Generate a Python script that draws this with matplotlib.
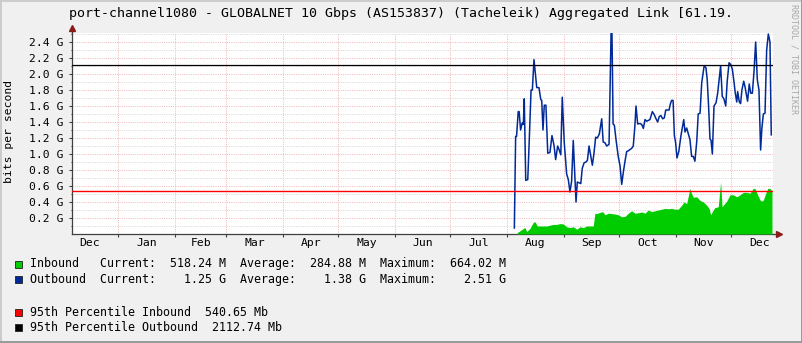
import matplotlib
matplotlib.use("Agg")
import matplotlib.pyplot as plt
from matplotlib.patches import Rectangle
from matplotlib.lines import Line2D

# ---------------- data ----------------
# day numbers: 0 = 1 January; values in Gbit/s
out_days = [216.0, 216.7, 217.2, 218.1, 218.6, 219.4, 220.3, 220.9, 221.4, 222.2,
            223.3, 224.1, 225.1, 225.8, 226.7, 228.2, 229.4, 230.4, 230.9, 231.6,
            232.3, 233.2, 234.2, 235.4, 236.5, 237.6, 238.5, 239.6, 240.3, 241.3,
            242.1, 243.2, 244.5, 245.4, 246.3, 247.2, 248.1, 249.6, 250.3, 252.2,
            253.0, 254.0, 255.0, 255.8, 256.7, 257.6, 258.5, 259.4, 260.3, 261.2,
            262.3, 263.6, 264.4, 265.4, 266.3, 267.6, 268.7, 269.2, 269.8, 270.5,
            271.4, 272.6, 273.6, 274.5, 275.4, 276.3, 277.2, 278.1, 279.9, 280.8,
            281.6, 282.3, 283.2, 283.9, 284.5, 285.4, 286.3, 287.2, 288.1, 289.9,
            291.2, 292.3, 293.0, 294.1, 295.0, 295.9, 296.8, 297.7, 298.5, 300.3,
            301.0, 301.7, 302.5, 303.2, 303.9, 304.6, 305.6, 306.8, 308.3, 309.0,
            309.9, 310.8, 311.7, 312.6, 313.5, 314.4, 315.4, 316.2, 317.2, 318.1,
            319.4, 320.4, 321.1, 321.9, 322.6, 323.2, 323.9, 324.8, 325.9, 326.8,
            327.7, 328.4, 329.3, 330.2, 331.2, 332.0, 333.0, 333.9, 334.8, 335.7,
            336.4, 337.2, 337.7, 338.6, 339.3, 340.0, 341.0, 341.7, 342.6, 343.1,
            344.0, 344.8, 345.7, 346.6, 347.5, 348.4, 349.3, 350.2, 350.9, 351.7,
            352.6, 353.5, 354.4, 355.3, 356.0]
out_vals = [0.075, 1.22, 1.22, 1.53, 1.53, 1.30, 1.39, 1.37, 1.69, 0.67,
            0.68, 1.16, 1.80, 1.80, 2.18, 1.83, 1.83, 1.68, 1.67, 1.30,
            1.61, 1.61, 1.01, 1.02, 1.23, 1.11, 0.93, 1.10, 1.06, 0.99,
            1.71, 1.14, 0.75, 0.68, 0.525, 0.66, 1.17, 0.40, 0.65, 0.63,
            0.82, 0.89, 0.90, 0.92, 1.10, 0.98, 0.86, 1.01, 1.21, 1.20,
            1.25, 1.44, 1.15, 1.14, 1.10, 1.12, 2.51, 2.51, 1.375, 1.36,
            1.18, 0.97, 0.85, 0.62, 0.775, 0.91, 1.03, 1.04, 1.07, 1.10,
            1.325, 1.60, 1.375, 1.38, 1.38, 1.37, 1.32, 1.43, 1.41, 1.43,
            1.53, 1.49, 1.45, 1.40, 1.47, 1.48, 1.44, 1.45, 1.55, 1.55,
            1.625, 1.67, 1.67, 1.23, 1.14, 0.95, 1.03, 1.23, 1.43, 1.275,
            1.325, 1.25, 1.18, 0.97, 0.97, 0.91, 1.16, 1.50, 1.51, 1.89,
            2.10, 2.08, 1.93, 1.575, 1.19, 1.17, 1.00, 1.60, 1.64, 1.76,
            1.95, 2.10, 1.72, 1.69, 1.60, 1.91, 2.14, 2.12, 2.06, 1.90,
            1.76, 1.65, 1.78, 1.65, 1.63, 1.80, 1.91, 1.84, 1.72, 1.66,
            1.875, 1.76, 1.76, 2.03, 2.40, 1.93, 1.80, 1.05, 1.325, 1.50,
            1.51, 2.30, 2.50, 2.40, 1.24]

in_days = [217.6, 219.1, 220.9, 221.8, 222.7, 224.5, 226.3, 227.2, 228.5, 230.9,
           233.6, 235.4, 237.2, 239.1, 240.9, 242.7, 244.5, 246.3, 248.1, 250.0,
           251.8, 253.6, 255.4, 257.2, 259.0, 259.9, 260.9, 262.7, 264.1, 265.4,
           267.2, 269.0, 270.8, 272.6, 274.5, 276.3, 278.1, 279.9, 281.7, 283.5,
           285.4, 287.2, 289.0, 290.8, 292.6, 294.4, 296.3, 298.1, 299.9, 301.7,
           303.5, 305.3, 307.2, 308.4, 309.9, 310.8, 311.7, 312.6, 313.5, 315.4,
           317.2, 319.0, 320.8, 322.1, 323.0, 324.1, 325.3, 327.1, 328.4, 329.2,
           330.2, 331.7, 333.5, 335.3, 337.2, 339.0, 340.8, 342.6, 344.4, 346.2,
           347.1, 348.4, 349.9, 350.8, 351.7, 353.0, 354.1, 355.3, 356.4]
in_vals = [0.02, 0.04, 0.07, 0.08, 0.03, 0.07, 0.145, 0.155, 0.10, 0.10,
           0.10, 0.11, 0.12, 0.12, 0.13, 0.125, 0.09, 0.08, 0.09, 0.06,
           0.09, 0.08, 0.10, 0.10, 0.10, 0.26, 0.255, 0.27, 0.28, 0.24,
           0.26, 0.255, 0.25, 0.24, 0.215, 0.22, 0.26, 0.29, 0.26, 0.265,
           0.275, 0.26, 0.30, 0.28, 0.29, 0.30, 0.31, 0.32, 0.315, 0.32,
           0.31, 0.31, 0.36, 0.40, 0.38, 0.475, 0.57, 0.50, 0.46, 0.465,
           0.42, 0.40, 0.36, 0.32, 0.24, 0.29, 0.33, 0.34, 0.65, 0.34,
           0.37, 0.41, 0.49, 0.49, 0.465, 0.49, 0.52, 0.52, 0.51, 0.57,
           0.57, 0.50, 0.425, 0.41, 0.425, 0.51, 0.57, 0.57, 0.54]

pct95_in = 0.54065    # G
pct95_out = 2.11274   # G

month_names = ["Dec", "Jan", "Feb", "Mar", "Apr", "May", "Jun", "Jul",
               "Aug", "Sep", "Oct", "Nov", "Dec"]
month_starts = [-31, 0, 31, 59, 90, 120, 151, 181, 212, 243, 273, 304, 334, 365]

y_major = [0.2, 0.4, 0.6, 0.8, 1.0, 1.2, 1.4, 1.6, 1.8, 2.0, 2.2, 2.4]
y_minor = [0.1, 0.3, 0.5, 0.7, 0.9, 1.1, 1.3, 1.5, 1.7, 1.9, 2.1, 2.3, 2.5]

title = "port-channel1080 - GLOBALNET 10 Gbps (AS153837) (Tacheleik) Aggregated Link [61.19."
legend_rows = [
    ("#00CC00", "Inbound   Current:  518.24 M  Average:  284.88 M  Maximum:  664.02 M"),
    ("#002A97", "Outbound  Current:    1.25 G  Average:    1.38 G  Maximum:    2.51 G"),
    ("#FF0000", "95th Percentile Inbound  540.65 Mb"),
    ("#000000", "95th Percentile Outbound  2112.74 Mb"),
]
legend_y = [264, 279.5, 312, 327.5]

# ---------------- figure ----------------
W, H = 803, 343
MONO = "DejaVu Sans Mono"
fig = plt.figure(figsize=(W / 100, H / 100), dpi=100, facecolor="#F0F0F0")

def fx(px):
    return px / W

def fy(py):
    return 1 - py / H

ax = fig.add_axes([fx(72), fy(234), fx(773) - fx(72), fy(33) - fy(234)])
ax.set_facecolor("white")
ax.set_xlim(-25.07, 356.95)
ax.set_ylim(0, 2.5125)

# grid
ax.set_yticks(y_major)
ax.set_yticks(y_minor, minor=True)
ax.set_yticklabels([f"{v:.1f} G" for v in y_major])
ax.set_xticks(month_starts[1:-1])
ax.set_xticklabels([])
mids = [(a + b) / 2 for a, b in zip(month_starts[:-1], month_starts[1:])]
ax.set_xticks(mids, minor=True)
ax.set_xticklabels(month_names, minor=True)

dot = (0, (1, 1.3))
ax.grid(which="major", axis="both", color="#F2B5B5", linestyle=dot, linewidth=0.7)
ax.grid(which="minor", axis="y", color="#D6D6D6", linestyle=dot, linewidth=0.7)
ax.set_axisbelow(True)

ax.tick_params(axis="y", which="major", direction="out", length=2, width=0.8,
               color="#404040", pad=4.5, labelsize=8.2, labelcolor="black")
ax.tick_params(axis="y", which="minor", direction="out", length=1, width=0.8,
               color="#404040")
ax.tick_params(axis="x", which="major", direction="out", length=2, width=0.8,
               color="#404040")
ax.tick_params(axis="x", which="minor", length=0, pad=3.0, labelsize=8.2,
               labelcolor="black")
for lab in ax.get_yticklabels() + ax.get_xticklabels(minor=True):
    lab.set_family(MONO)

for s in ("top", "right"):
    ax.spines[s].set_visible(False)
for s in ("left", "bottom"):
    ax.spines[s].set_color("#404040")
    ax.spines[s].set_linewidth(0.9)

# data
ax.fill_between(in_days, 0, in_vals, color="#00CC00", linewidth=0, zorder=3)
ax.plot(out_days, out_vals, color="#002A97", linewidth=1.1, zorder=4)
ax.axhline(pct95_in, color="#FF0000", linewidth=1.0, zorder=5)
ax.axhline(pct95_out, color="#000000", linewidth=0.9, zorder=5)

# axis extensions and arrows
ax.add_line(Line2D([0, 0], [1, 1 + 4 / 201], transform=ax.transAxes,
                   color="#404040", linewidth=0.9, clip_on=False))
ax.add_line(Line2D([1, 1 + 4 / 701], [0, 0], transform=ax.transAxes,
                   color="#404040", linewidth=0.9, clip_on=False))
ax.plot([0], [1 + 5 / 201], marker="^", markersize=4.5, color="#8B1A1A",
        transform=ax.transAxes, clip_on=False, zorder=6)
ax.plot([1 + 6 / 701], [0], marker=">", markersize=4.5, color="#8B1A1A",
        transform=ax.transAxes, clip_on=False, zorder=6)

# texts
fig.text(fx(401), fy(13), title, ha="center", va="center", family=MONO,
         fontsize=9.5, color="black")
fig.text(fx(9), fy(131), "bits per second", rotation=90, ha="center", va="center",
         family=MONO, fontsize=8.2, color="black")
fig.text(fx(794), fy(4), "RRDTOOL / TOBI OETIKER", rotation=270, ha="center",
         va="top", family=MONO, fontsize=6.0, color="#A8A8A8")

for (col, txt), ly in zip(legend_rows, legend_y):
    fig.patches.append(Rectangle((fx(15), fy(ly + 3.5)), fx(7), 7 / H,
                                 transform=fig.transFigure, facecolor=col,
                                 edgecolor="#202020", linewidth=0.6))
    fig.text(fx(30), fy(ly), txt, ha="left", va="center", family=MONO,
             fontsize=8.4, color="black")

# frame shading
fig.add_artist(Line2D([0, 1], [1 - 0.5 / H, 1 - 0.5 / H], transform=fig.transFigure,
                      color="#CBCBCB", linewidth=1.4))
fig.add_artist(Line2D([0.5 / W, 0.5 / W], [0, 1], transform=fig.transFigure,
                      color="#CBCBCB", linewidth=1.4))
fig.add_artist(Line2D([0, 1], [1.0 / H, 1.0 / H], transform=fig.transFigure,
                      color="#999999", linewidth=1.4))
fig.add_artist(Line2D([1 - 1.0 / W, 1 - 1.0 / W], [0, 1], transform=fig.transFigure,
                      color="#999999", linewidth=1.4))

fig.savefig("out.png", dpi=100, facecolor=fig.get_facecolor())
